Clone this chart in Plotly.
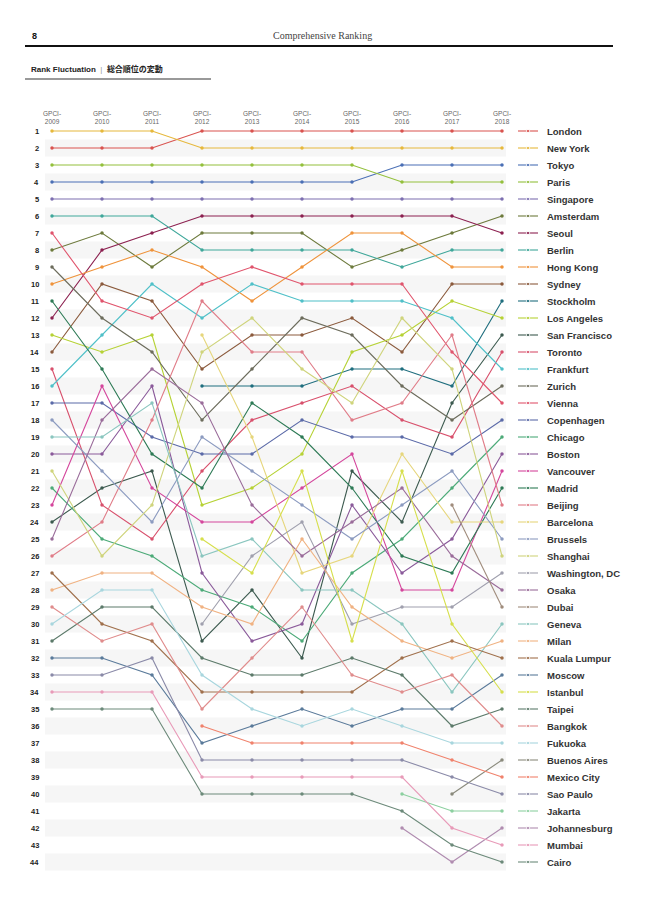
import plotly.graph_objects as go

# years shown as columns
years = [2009, 2010, 2011, 2012, 2013, 2014, 2015, 2016, 2017, 2018]

# city order (rank 1 first) for each year
order_2009 = ['New York', 'London', 'Paris', 'Tokyo', 'Singapore', 'Berlin', 'Vienna', 'Amsterdam',
              'Zurich', 'Hong Kong', 'Madrid', 'Seoul', 'Los Angeles', 'Sydney', 'Toronto', 'Frankfurt',
              'Copenhagen', 'Brussels', 'Geneva', 'Boston', 'Shanghai', 'Chicago', 'Vancouver',
              'San Francisco', 'Osaka', 'Beijing', 'Kuala Lumpur', 'Milan', 'Bangkok', 'Fukuoka',
              'Taipei', 'Moscow', 'Sao Paulo', 'Mumbai', 'Cairo']
order_2010 = ['New York', 'London', 'Paris', 'Tokyo', 'Singapore', 'Berlin', 'Amsterdam', 'Seoul',
              'Hong Kong', 'Sydney', 'Vienna', 'Zurich', 'Frankfurt', 'Los Angeles', 'Madrid',
              'Vancouver', 'Copenhagen', 'Osaka', 'Geneva', 'Boston', 'Brussels', 'San Francisco',
              'Toronto', 'Beijing', 'Chicago', 'Shanghai', 'Milan', 'Fukuoka', 'Taipei', 'Kuala Lumpur',
              'Bangkok', 'Moscow', 'Sao Paulo', 'Mumbai', 'Cairo']
order_2011 = ['New York', 'London', 'Paris', 'Tokyo', 'Singapore', 'Berlin', 'Seoul', 'Hong Kong',
              'Amsterdam', 'Frankfurt', 'Sydney', 'Vienna', 'Los Angeles', 'Zurich', 'Osaka', 'Boston',
              'Geneva', 'Beijing', 'Copenhagen', 'Madrid', 'San Francisco', 'Vancouver', 'Shanghai',
              'Brussels', 'Toronto', 'Chicago', 'Milan', 'Fukuoka', 'Taipei', 'Bangkok', 'Kuala Lumpur',
              'Sao Paulo', 'Moscow', 'Mumbai', 'Cairo']
order_2012 = ['London', 'New York', 'Paris', 'Tokyo', 'Singapore', 'Seoul', 'Amsterdam', 'Berlin',
              'Hong Kong', 'Vienna', 'Beijing', 'Frankfurt', 'Barcelona', 'Shanghai', 'Sydney',
              'Stockholm', 'Osaka', 'Zurich', 'Brussels', 'Copenhagen', 'Toronto', 'Madrid',
              'Los Angeles', 'Vancouver', 'Istanbul', 'Geneva', 'Boston', 'Chicago', 'Milan',
              'Washington, DC', 'San Francisco', 'Taipei', 'Fukuoka', 'Kuala Lumpur', 'Bangkok',
              'Mexico City', 'Moscow', 'Sao Paulo', 'Mumbai', 'Cairo']
order_2013 = ['London', 'New York', 'Paris', 'Tokyo', 'Singapore', 'Seoul', 'Amsterdam', 'Berlin',
              'Vienna', 'Frankfurt', 'Hong Kong', 'Shanghai', 'Sydney', 'Beijing', 'Zurich', 'Stockholm',
              'Madrid', 'Toronto', 'Barcelona', 'Copenhagen', 'Brussels', 'Los Angeles', 'Osaka',
              'Vancouver', 'Geneva', 'Washington, DC', 'Istanbul', 'San Francisco', 'Chicago', 'Milan',
              'Boston', 'Bangkok', 'Taipei', 'Kuala Lumpur', 'Fukuoka', 'Moscow', 'Mexico City',
              'Sao Paulo', 'Mumbai', 'Cairo']
order_2014 = ['London', 'New York', 'Paris', 'Tokyo', 'Singapore', 'Seoul', 'Amsterdam', 'Berlin',
              'Hong Kong', 'Vienna', 'Frankfurt', 'Zurich', 'Sydney', 'Beijing', 'Shanghai', 'Stockholm',
              'Toronto', 'Copenhagen', 'Madrid', 'Los Angeles', 'Istanbul', 'Vancouver', 'Brussels',
              'Washington, DC', 'Milan', 'Osaka', 'Barcelona', 'Geneva', 'Bangkok', 'Boston', 'Chicago',
              'San Francisco', 'Taipei', 'Kuala Lumpur', 'Moscow', 'Fukuoka', 'Mexico City',
              'Sao Paulo', 'Mumbai', 'Cairo']
order_2015 = ['London', 'New York', 'Paris', 'Tokyo', 'Singapore', 'Seoul', 'Hong Kong', 'Berlin',
              'Amsterdam', 'Vienna', 'Frankfurt', 'Sydney', 'Zurich', 'Los Angeles', 'Stockholm',
              'Toronto', 'Shanghai', 'Beijing', 'Copenhagen', 'Vancouver', 'San Francisco', 'Madrid',
              'Boston', 'Osaka', 'Brussels', 'Barcelona', 'Chicago', 'Geneva', 'Milan', 'Washington, DC',
              'Istanbul', 'Taipei', 'Bangkok', 'Kuala Lumpur', 'Fukuoka', 'Moscow', 'Mexico City',
              'Sao Paulo', 'Mumbai', 'Cairo']
order_2016 = ['London', 'New York', 'Tokyo', 'Paris', 'Singapore', 'Seoul', 'Hong Kong', 'Amsterdam',
              'Berlin', 'Vienna', 'Frankfurt', 'Shanghai', 'Los Angeles', 'Sydney', 'Stockholm', 'Zurich',
              'Beijing', 'Toronto', 'Copenhagen', 'Barcelona', 'Istanbul', 'Osaka', 'Brussels',
              'San Francisco', 'Chicago', 'Madrid', 'Boston', 'Vancouver', 'Washington, DC', 'Geneva',
              'Milan', 'Kuala Lumpur', 'Taipei', 'Bangkok', 'Moscow', 'Fukuoka', 'Mexico City',
              'Sao Paulo', 'Mumbai', 'Jakarta', 'Cairo', 'Johannesburg']
order_2017 = ['London', 'New York', 'Tokyo', 'Paris', 'Singapore', 'Seoul', 'Amsterdam', 'Berlin',
              'Hong Kong', 'Sydney', 'Los Angeles', 'Frankfurt', 'Beijing', 'Vienna', 'Shanghai',
              'Stockholm', 'San Francisco', 'Zurich', 'Toronto', 'Copenhagen', 'Brussels', 'Chicago',
              'Dubai', 'Barcelona', 'Boston', 'Osaka', 'Madrid', 'Vancouver', 'Washington, DC',
              'Istanbul', 'Kuala Lumpur', 'Milan', 'Bangkok', 'Geneva', 'Moscow', 'Taipei', 'Fukuoka',
              'Mexico City', 'Sao Paulo', 'Buenos Aires', 'Jakarta', 'Mumbai', 'Cairo', 'Johannesburg']
order_2018 = ['London', 'New York', 'Tokyo', 'Paris', 'Singapore', 'Amsterdam', 'Seoul', 'Berlin',
              'Hong Kong', 'Sydney', 'Stockholm', 'Los Angeles', 'San Francisco', 'Toronto', 'Frankfurt',
              'Zurich', 'Vienna', 'Copenhagen', 'Chicago', 'Boston', 'Vancouver', 'Madrid', 'Beijing',
              'Barcelona', 'Brussels', 'Shanghai', 'Washington, DC', 'Osaka', 'Dubai', 'Geneva', 'Milan',
              'Kuala Lumpur', 'Moscow', 'Istanbul', 'Taipei', 'Bangkok', 'Fukuoka', 'Buenos Aires',
              'Mexico City', 'Sao Paulo', 'Jakarta', 'Johannesburg', 'Mumbai', 'Cairo']

orders = [order_2009, order_2010, order_2011, order_2012, order_2013,
          order_2014, order_2015, order_2016, order_2017, order_2018]

# legend order = 2018 ranking, colours in the same order
cities = order_2018
colors = ['#d9534f', '#e6b83c', '#4a6fb5', '#93c03c', '#7c6eb0', '#6d7a3c', '#8c2150', '#3fa79a',
          '#ef933b', '#8b5a3c', '#1f6e7e', '#b6d235', '#3c5a4f', '#d8506c', '#4fc0c8', '#6c6c5c',
          '#e0546c', '#5b6aa8', '#4caa78', '#8a5a9a', '#d4469c', '#2d7a55', '#e07c88', '#e6d67c',
          '#8c9bc0', '#cfd47c', '#a0a0ae', '#9a6c9a', '#a08c7c', '#8ac6bf', '#f0b282', '#a0704c',
          '#5a7a9a', '#d6df4c', '#5c7a6a', '#e08c8c', '#a8d6de', '#8a8a7c', '#f0826c', '#8a8aa8',
          '#8cd0a0', '#b08cb0', '#e89ab8', '#6c8a7a']
rank_labels = [str(r) for r in range(1, 45)]
col_labels = ['GPCI-<br>' + str(y) for y in years]

# pixel -> data helpers (page is 650 x 918, no margins)
W, H = 650, 918
def xd(px):
    return 2009 + (px - 52) / 50.0
def yd(py):
    return 1 + (py - 131) / 17.0

FONT = 'Liberation Sans, Arial, sans-serif'

fig = go.Figure()

# one line per city
for city, col in zip(cities, colors):
    xs, ys = [], []
    for yr, order in zip(years, orders):
        if city in order:
            xs.append(yr)
            ys.append(order.index(city) + 1)
    fig.add_trace(go.Scatter(x=xs, y=ys, mode='lines+markers', name=city,
                             line=dict(color=col, width=1.1),
                             marker=dict(color=col, size=3.5),
                             hoverinfo='name+y', showlegend=False))

# hand made legend on the right, one row per 2018 rank
for i, (city, col) in enumerate(zip(cities, colors)):
    r = i + 1
    fig.add_trace(go.Scatter(x=[xd(518), xd(528), xd(538)], y=[r, r, r],
                             mode='lines+markers', line=dict(color=col, width=1.1),
                             marker=dict(color=col, size=[0, 3.5, 0]),
                             hoverinfo='skip', showlegend=False))
    fig.add_annotation(x=xd(545), y=r, text='<b>' + city + '</b>', showarrow=False,
                       xanchor='left', yanchor='middle',
                       font=dict(family=FONT, size=9.5, color='#333333'))

# rank numbers on the left
for i, lab in enumerate(rank_labels):
    fig.add_annotation(x=xd(41), y=i + 1, text='<b>' + lab + '</b>', showarrow=False,
                       xanchor='right', yanchor='middle',
                       font=dict(family=FONT, size=7.5, color='#222222'))

# column headers
for yr, lab in zip(years, col_labels):
    fig.add_annotation(x=yr, y=yd(117), text=lab, showarrow=False,
                       xanchor='center', yanchor='middle',
                       font=dict(family=FONT, size=6.5, color='#666666'))

shapes = []
# light stripes behind even ranks
for r in range(2, 45, 2):
    shapes.append(dict(type='rect', xref='x', yref='y', x0=xd(45), x1=xd(506),
                       y0=r - 0.5, y1=r + 0.5, fillcolor='#f6f6f6',
                       line=dict(width=0), layer='below'))
# header rules
shapes.append(dict(type='line', xref='x', yref='y', x0=xd(25), x1=xd(613),
                   y0=yd(46), y1=yd(46), line=dict(color='#111111', width=2)))
shapes.append(dict(type='line', xref='x', yref='y', x0=xd(25), x1=xd(211),
                   y0=yd(79), y1=yd(79), line=dict(color='#777777', width=1.6)))

# page header texts
fig.add_annotation(x=xd(30), y=yd(36), text='<b>8</b>', showarrow=False, xanchor='left',
                   yanchor='middle', font=dict(family=FONT, size=9, color='#111111'))
fig.add_annotation(x=xd(322), y=yd(35), text='Comprehensive Ranking', showarrow=False,
                   xanchor='center', yanchor='middle',
                   font=dict(family='Liberation Serif, DejaVu Serif, serif', size=10, color='#444444'))
fig.add_annotation(x=xd(29), y=yd(69),
                   text='<b>Rank Fluctuation</b>  <span style="color:#999999">|</span>  <b>総合順位の変動</b>',
                   showarrow=False, xanchor='left', yanchor='middle',
                   font=dict(family='Liberation Sans, Noto Sans CJK JP, sans-serif', size=8,
                             color='#222222'))

fig.update_layout(
    width=W, height=H,
    margin=dict(l=0, r=0, t=0, b=0),
    paper_bgcolor='white', plot_bgcolor='white',
    shapes=shapes,
    xaxis=dict(range=[xd(0), xd(W)], visible=False, fixedrange=True),
    yaxis=dict(range=[yd(H), yd(0)], visible=False, fixedrange=True),
    showlegend=False,
)

fig.write_html('out.html', config={'displayModeBar': False},
               post_script="document.body.style.margin='0';")
